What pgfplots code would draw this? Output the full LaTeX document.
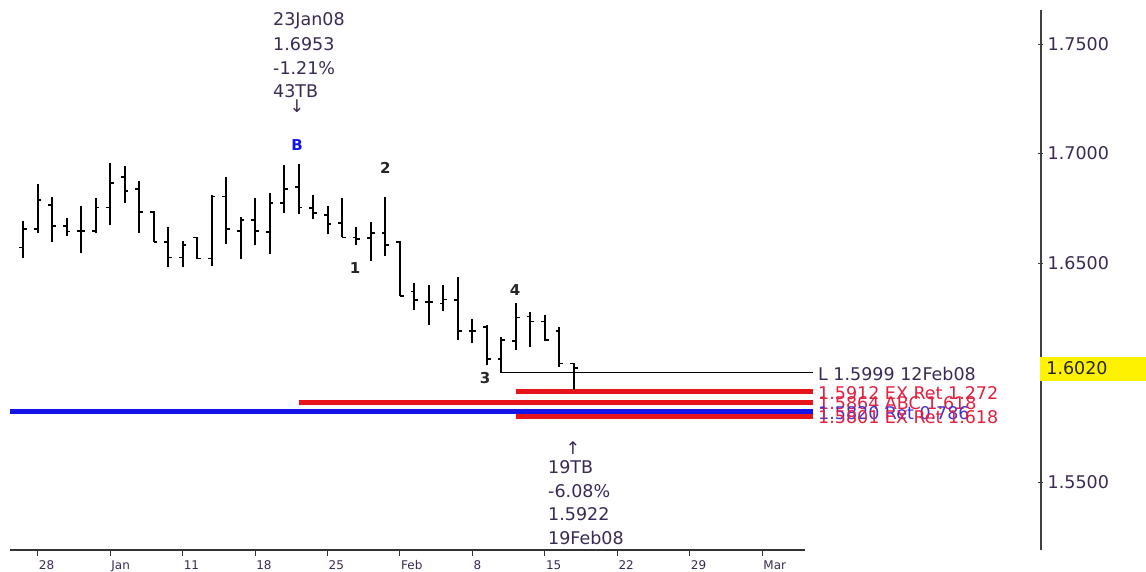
\documentclass[border=0pt]{standalone}
\usepackage{fontspec}
\setmainfont{DejaVu Sans}
\usepackage{pgfplots}
\pgfplotsset{compat=1.18}
\usepackage{pgfplotstable}
\definecolor{labc}{RGB}{58,42,84}
\definecolor{lvred}{RGB}{232,20,28}
\definecolor{lvblue}{RGB}{20,20,230}
\definecolor{txred}{RGB}{228,32,64}
\definecolor{txblue}{RGB}{70,50,210}
\newcommand\fbig{\fontsize{17.5pt}{21pt}\selectfont}
\newcommand\fsmall{\fontsize{12pt}{14pt}\selectfont}
\newcommand\fwave{\fontsize{15pt}{17pt}\selectfont\bfseries}

\pgfplotstableread{
i O H L C
1 1.6570 1.6692 1.6524 1.6654
2 1.6654 1.6861 1.6638 1.6788
3 1.6765 1.6803 1.6596 1.6669
4 1.6669 1.6705 1.6623 1.6643
5 1.6647 1.6760 1.6544 1.6647
6 1.6646 1.6795 1.6638 1.6753
7 1.6753 1.6958 1.6672 1.6864
8 1.6894 1.6944 1.6773 1.6830
9 1.6837 1.6874 1.6638 1.6733
10 1.6733 1.6737 1.6597 1.6597
11 1.6597 1.6663 1.6483 1.6526
12 1.6526 1.6602 1.6483 1.6582
13 1.6616 1.6617 1.6520 1.6520
14 1.6520 1.6811 1.6488 1.6803
15 1.6803 1.6894 1.6587 1.6654
16 1.6646 1.6711 1.6520 1.6696
17 1.6696 1.6795 1.6582 1.6647
18 1.6642 1.6818 1.6540 1.6775
19 1.6775 1.6946 1.6730 1.6837
20 1.6846 1.6953 1.6724 1.6753
21 1.6750 1.6811 1.6701 1.6727
22 1.6719 1.6760 1.6632 1.6678
23 1.6684 1.6795 1.6617 1.6617
24 1.6617 1.6663 1.6582 1.6610
25 1.6613 1.6689 1.6511 1.6636
26 1.6636 1.6803 1.6532 1.6582
27 1.6597 1.6602 1.6349 1.6349
28 1.6369 1.6407 1.6285 1.6331
29 1.6321 1.6400 1.6217 1.6321
30 1.6316 1.6400 1.6282 1.6334
31 1.6331 1.6437 1.6148 1.6190
32 1.6190 1.6244 1.6133 1.6190
33 1.6209 1.6217 1.6034 1.6062
34 1.6062 1.6163 1.5999 1.6148
35 1.6144 1.6319 1.6103 1.6252
36 1.6255 1.6278 1.6115 1.6232
37 1.6232 1.6263 1.6145 1.6148
38 1.6190 1.6209 1.6027 1.6042
39 1.6041 1.6045 1.5922 1.6020
}\bars

\begin{document}
\begin{tikzpicture}
\path[use as bounding box, fill=white] (0,0) rectangle (1146pt,571pt);
\begin{axis}[
  at={(10pt,21pt)}, anchor=south west, scale only axis,
  width=1031pt, height=540pt,
  xmin=0.088, xmax=71.24, ymin=1.51895, ymax=1.76553,
  clip=false,
  axis x line=bottom, axis y line=right, axis line style={-},
  x axis line style={draw=none},
  y axis line style={draw=black!75, line width=1.5pt},
  xtick={2,7,...,52},
  xticklabels={28,Jan,11,18,25,Feb,8,15,22,29,Mar},
  xtick style={draw=none},
  xticklabel style={anchor=north west, inner sep=0pt, yshift=-8pt, xshift=1pt, font=\fsmall, text=labc},
  ytick={1.55,1.65,1.70,1.75},
  yticklabel style={/pgf/number format/fixed, /pgf/number format/fixed zerofill, /pgf/number format/precision=4, font=\fbig, text=labc, inner sep=0pt, xshift=4pt},
  /pgf/number format/assume math mode=true,
  major tick length=5pt, tick align=center,
  ytick style={draw=black!75, line width=0.8pt},
]
% x axis line and ticks
\addplot[black!80, line width=1.3pt] coordinates {(0.088,1.51895) (54.95,1.51895)};
\addplot[draw=none, mark=none, error bars/.cd, y dir=minus, y fixed=0.0028, error mark=none,
  error bar style={draw=black!80, line width=1pt}]
  coordinates {(2,1.51895) (7,1.51895) (12,1.51895) (17,1.51895) (22,1.51895) (27,1.51895)
               (32,1.51895) (37,1.51895) (42,1.51895) (47,1.51895) (52,1.51895)};

% level lines
\addplot[black, line width=1.2pt] coordinates {(34.02,1.5999) (55.5,1.5999)};
\addplot[lvred, line width=5pt] coordinates {(35,1.5912) (55.5,1.5912)};
\addplot[lvred, line width=5pt] coordinates {(20,1.5864) (55.5,1.5864)};
\addplot[lvred, line width=5pt] coordinates {(35,1.5801) (55.5,1.5801)};
\addplot[lvblue, line width=5pt] coordinates {(0.088,1.5820) (55.5,1.5820)};

% OHLC bars
\addplot[draw=none, mark=none, error bars/.cd, y dir=plus, y explicit, error mark=none,
  error bar style={draw=black, line width=2pt}]
  table[x=i, y=L, y error expr=\thisrow{H}-\thisrow{L}] {\bars};
\addplot[draw=none, mark=none, error bars/.cd, x dir=minus, x fixed=0.26, error mark=none,
  error bar style={draw=black, line width=1.6pt}]
  table[x=i, y=O] {\bars};
\addplot[draw=none, mark=none, error bars/.cd, x dir=plus, x fixed=0.26, error mark=none,
  error bar style={draw=black, line width=1.6pt}]
  table[x=i, y=C] {\bars};

% level labels
\node[anchor=west, inner sep=0pt, font=\fbig, text=labc, yshift=-1pt] at (axis cs:55.85,1.5999) {L 1.5999 12Feb08};
\node[anchor=west, inner sep=0pt, font=\fbig, text=txred, yshift=-1pt] at (axis cs:55.85,1.5912) {1.5912 EX Ret 1.272};
\node[anchor=west, inner sep=0pt, font=\fbig, text=txred, yshift=-1pt] at (axis cs:55.85,1.5864) {1.5864 ABC 1.618};
\node[anchor=west, inner sep=0pt, font=\fbig, text=txblue, yshift=-1pt] at (axis cs:55.85,1.5820) {1.5820 Ret 0.786};
\node[anchor=west, inner sep=0pt, font=\fbig, text=txred, yshift=-1pt] at (axis cs:55.85,1.5801) {1.5801 EX Ret 1.618};

% wave labels
\node[font=\fwave, text=lvblue] at (axis cs:19.9,1.7039) {B};
\node[font=\fwave, text=black!85] at (axis cs:26,1.6934) {2};
\node[font=\fwave, text=black!85] at (axis cs:23.9,1.6477) {1};
\node[font=\fwave, text=black!85] at (axis cs:32.87,1.5975) {3};
\node[font=\fwave, text=black!85] at (axis cs:34.94,1.6377) {4};

% top annotation
\node[anchor=base west, inner sep=0pt, font=\fbig, text=labc] at (axis cs:18.24,1.75849) {23Jan08};
\node[anchor=base west, inner sep=0pt, font=\fbig, text=labc] at (axis cs:18.24,1.74708) {1.6953};
\node[anchor=base west, inner sep=0pt, font=\fbig, text=labc] at (axis cs:18.24,1.73612) {-1.21\%};
\node[anchor=base west, inner sep=0pt, font=\fbig, text=labc] at (axis cs:18.24,1.72562) {43TB};
\node[inner sep=0pt, font=\fbig, text=labc] at (axis cs:19.9,1.72169) {↓};

% bottom annotation
\node[inner sep=0pt, font=\fbig, text=labc] at (axis cs:38.94,1.56553) {↑};
\node[anchor=base west, inner sep=0pt, font=\fbig, text=labc] at (axis cs:37.22,1.55393) {19TB};
\node[anchor=base west, inner sep=0pt, font=\fbig, text=labc] at (axis cs:37.22,1.54297) {-6.08\%};
\node[anchor=base west, inner sep=0pt, font=\fbig, text=labc] at (axis cs:37.22,1.53247) {1.5922};
\node[anchor=base west, inner sep=0pt, font=\fbig, text=labc] at (axis cs:37.22,1.52151) {19Feb08};

% current price box
\fill[yellow] (axis cs:71.18,1.59612) rectangle (axis cs:78.49,1.60708);
\node[anchor=west, inner sep=0pt, font=\fbig, text=black!85, yshift=-0.5pt] at (axis cs:71.6,1.6020) {1.6020};
\end{axis}
\end{tikzpicture}
\end{document}
